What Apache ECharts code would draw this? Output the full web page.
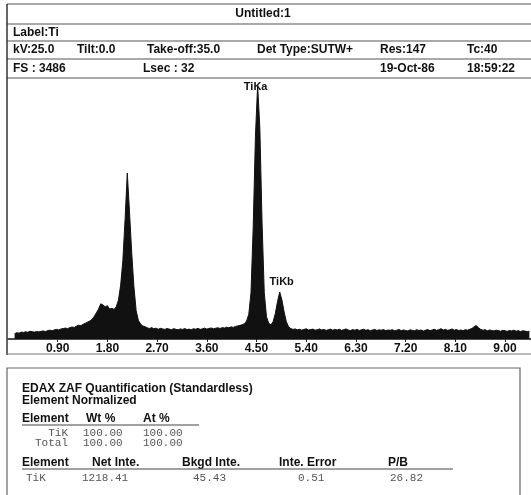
<!DOCTYPE html>
<html><head><meta charset="utf-8">
<script src="https://cdn.jsdelivr.net/npm/echarts@6/dist/echarts.min.js"></script>
<style>html,body{margin:0;padding:0;background:#fff}#c{width:531px;height:495px}</style>
</head><body><div id="c"></div>
<script>
// Spectrum calibration (keV per channel) and counts
const eStart = 0.12;
const eStep = 0.04;
const counts = [
  70,85,78,92,88,96,90,104,98,92,            // 0.12
  100,95,102,108,100,112,118,110,122,128,    // 0.52
  120,134,140,146,138,152,160,155,172,185,   // 0.92
  178,196,210,225,240,262,300,350,400,470,   // 1.32
  455,430,445,400,410,395,430,520,720,1050,  // 1.72
  1600,2217,1700,1150,700,380,250,200,175,165, // 2.12
  150,140,152,138,145,130,142,135,128,140,   // 2.52
  132,125,138,130,122,135,128,140,126,132,   // 2.92
  124,138,130,142,128,136,145,132,140,148,   // 3.32
  136,144,150,140,152,146,158,150,162,155,   // 3.72
  168,175,182,190,205,240,330,620,1500,2700, // 4.12
  3392,2820,1560,620,300,210,190,230,340,500, // 4.52
  628,520,360,230,165,140,128,135,122,130,   // 4.92
  118,128,136,120,126,132,118,125,134,120,   // 5.32
  128,115,124,132,118,126,120,130,116,124,   // 5.72
  135,120,112,126,118,128,114,122,130,116,   // 6.12
  124,110,120,128,114,122,118,126,112,120,   // 6.52
  116,124,110,118,126,112,120,115,108,122,   // 6.92
  116,110,124,114,120,106,118,126,112,120,   // 7.32
  130,116,124,138,120,128,116,122,134,118,   // 7.72
  126,114,120,112,124,118,130,140,165,180,   // 8.12
  150,128,118,124,110,120,114,108,118,112,   // 8.52
  104,116,110,102,114,108,118,104,112,100,   // 8.92
  110,106,98,104                             // 9.32
];
const fullScale = 3486;
const xTickStep = 0.9;
const xMax = 9.47;
const peakLabels = [
  {name: 'TiKa', e: 4.52, c: 3392},
  {name: 'TiKb', e: 4.92, c: 628}
];
const headerRows = [
  [{t:'Untitled:1', x:263, align:'center'}],
  [{t:'Label:Ti', x:13}],
  [{t:'kV:25.0', x:13},{t:'Tilt:0.0', x:77},{t:'Take-off:35.0', x:147},{t:'Det Type:SUTW+', x:257},{t:'Res:147', x:380},{t:'Tc:40', x:467}],
  [{t:'FS : 3486', x:13},{t:'Lsec : 32', x:143},{t:'19-Oct-86', x:380},{t:'18:59:22', x:467}]
];
const headerRowY = [14, 32.5, 50, 68.5];
const quantTitle = ['EDAX ZAF Quantification (Standardless)', 'Element Normalized'];
const quantHead1 = ['Element', 'Wt %', 'At %'];
const quantRows1 = [['TiK', '100.00', '100.00'], ['Total', '100.00', '100.00']];
const quantHead2 = ['Element', 'Net Inte.', 'Bkgd Inte.', 'Inte. Error', 'P/B'];
const quantRow2 = ['TiK', '1218.41', '45.43', '0.51', '26.82'];

const data = counts.map((c, i) => [+(eStart + eStep * i).toFixed(2), c]);

const BOLD = '700 12px "Liberation Sans", Arial, sans-serif';
const MONO = '400 11px "Liberation Mono", "Courier New", monospace';
const g = [];
function line(x1,y1,x2,y2,w,col){g.push({type:'line',shape:{x1,y1,x2,y2},style:{stroke:col||'#444',lineWidth:w||1},silent:true,z:10});}
function text(t,x,y,font,align,col){g.push({type:'text',x,y,style:{text:t,font:font,fill:col||'#111',textAlign:align||'left',textVerticalAlign:'middle'},silent:true,z:10});}

// header frame
[4,24,41,59,78].forEach(y=>line(7,y,531,y,1.2,'#555'));
line(7,4,7,355,1.5,'#333');
line(7,354,531,354,1.2,'#777');
headerRows.forEach((row,ri)=>row.forEach(c=>text(c.t,c.x,headerRowY[ri],BOLD,c.align||'left')));

// quant box
g.push({type:'rect',shape:{x:7,y:368,width:513,height:140},style:{fill:'none',stroke:'#666',lineWidth:1.2},silent:true,z:10});
text(quantTitle[0],22,389,BOLD);
text(quantTitle[1],22,401,BOLD);
[22,86,143].forEach((x,i)=>text(quantHead1[i],x,419,BOLD));
line(22,425,199,425,1,'#444');
text(quantRows1[0][0],68,433,MONO,'right','#555');
text(quantRows1[0][1],83,433,MONO,'left','#555');
text(quantRows1[0][2],143,433,MONO,'left','#555');
text(quantRows1[1][0],68,443,MONO,'right','#555');
text(quantRows1[1][1],83,443,MONO,'left','#555');
text(quantRows1[1][2],143,443,MONO,'left','#555');
[22,92,182,279,388].forEach((x,i)=>text(quantHead2[i],x,463,BOLD));
line(22,469,453,469,1,'#444');
[26,82,193,298,390].forEach((x,i)=>text(quantRow2[i],x,478,MONO,'left','#555'));

const chart = echarts.init(document.getElementById('c'), null, {renderer:'canvas'});
chart.setOption({
  animation:false,
  backgroundColor:'#fff',
  grid:{left:8,right:0,top:78,bottom:156},
  xAxis:{type:'value',min:0,max:xMax,interval:xTickStep,
    axisLine:{show:true,lineStyle:{color:'#111',width:1.5}},
    axisTick:{show:true,length:3,lineStyle:{color:'#222'}},
    axisLabel:{show:true,margin:4,color:'#111',fontFamily:'"Liberation Sans", Arial',fontWeight:'bold',fontSize:12,
      showMinLabel:false,showMaxLabel:false,
      formatter:v=> v===0?'':v.toFixed(2)},
    splitLine:{show:false}},
  yAxis:{type:'value',min:0,max:fullScale,show:false,splitLine:{show:false}},
  series:[{type:'line',data:data,showSymbol:false,symbol:'none',
    lineStyle:{color:'#111',width:1},
    areaStyle:{color:'#111',opacity:1},
    markPoint:{symbol:'circle',symbolSize:0,
      label:{show:true,formatter:p=>p.name,fontFamily:'"Liberation Sans", Arial',fontWeight:'bold',fontSize:11,color:'#111'},
      data:peakLabels.map((p,i)=>({name:p.name,coord:[p.e,p.c],
        label:{position:'top',offset:i===0?[-2,12]:[2,0]}}))}
  }],
  graphic:g
});
</script></body></html>
